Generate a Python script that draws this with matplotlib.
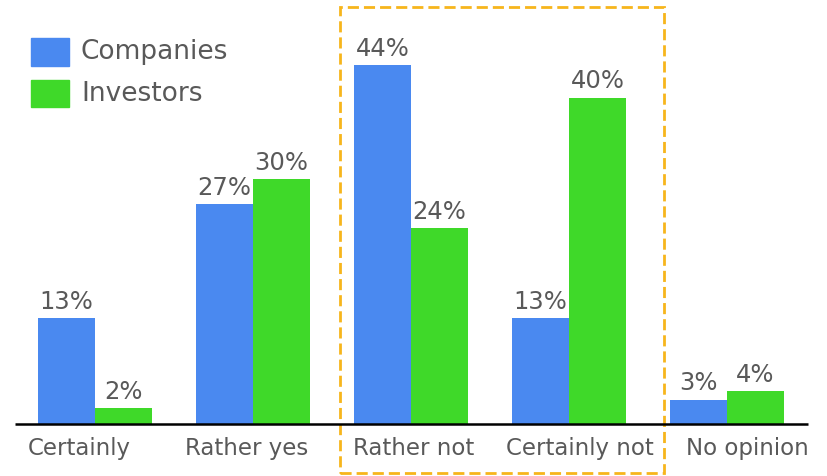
import numpy as np
import matplotlib.pyplot as plt
from matplotlib.patches import Rectangle

# data
categorias = ['Certainly', 'Rather yes', 'Rather not', 'Certainly not', 'No opinion']
companies = [13, 27, 44, 13, 3]
investors = [2, 30, 24, 40, 4]

azul = '#4a89f0'
verde = '#3fd929'
cinza = '#595959'

plt.rcParams['font.family'] = ['DejaVu Sans']

fig = plt.figure(figsize=(8.27, 4.76), dpi=100)
ax = fig.add_axes([0, 0, 1, 1])
ax.set_xlim(-0.601, 4.633)
ax.set_ylim(-6.37, 51.96)
ax.axis('off')

x = np.arange(len(categorias))
w = 0.36
b1 = ax.bar(x - w/2, companies, w, color=azul)
b2 = ax.bar(x + w/2, investors, w, color=verde)

for barras, vals in ((b1, companies), (b2, investors)):
    for b, v in zip(barras, vals):
        ax.annotate(f'{v}%', (b.get_x() + b.get_width()/2, v), xytext=(0, 3),
                    textcoords='offset points', ha='center', va='bottom',
                    fontsize=17.5, color=cinza)

# eixo x
ax.plot([-0.506, 4.51], [0, 0], color='black', lw=1.8, solid_capstyle='butt')
# rotulos espaçados de forma regular (nao alinhados com os grupos)
pos_rot = -0.10 + 1.057 * x
for xi, c in zip(pos_rot, categorias):
    ax.text(xi, -2.95, c, ha='center', va='center', fontsize=16.5, color=cinza)

# destaque
ax.add_patch(Rectangle((1.551, -6.0), 2.05, 57.1, fill=False, ec='#f7b51c',
                       lw=2, ls=(0, (4, 1.8))))

# legenda
ax.add_patch(Rectangle((-0.405, 43.9), 0.24, 3.4, color=azul))
ax.add_patch(Rectangle((-0.405, 38.8), 0.24, 3.4, color=verde))
ax.text(-0.089, 45.6, 'Companies', va='center', fontsize=19, color=cinza)
ax.text(-0.089, 40.5, 'Investors', va='center', fontsize=19, color=cinza)

fig.savefig('out.png', dpi=100)
